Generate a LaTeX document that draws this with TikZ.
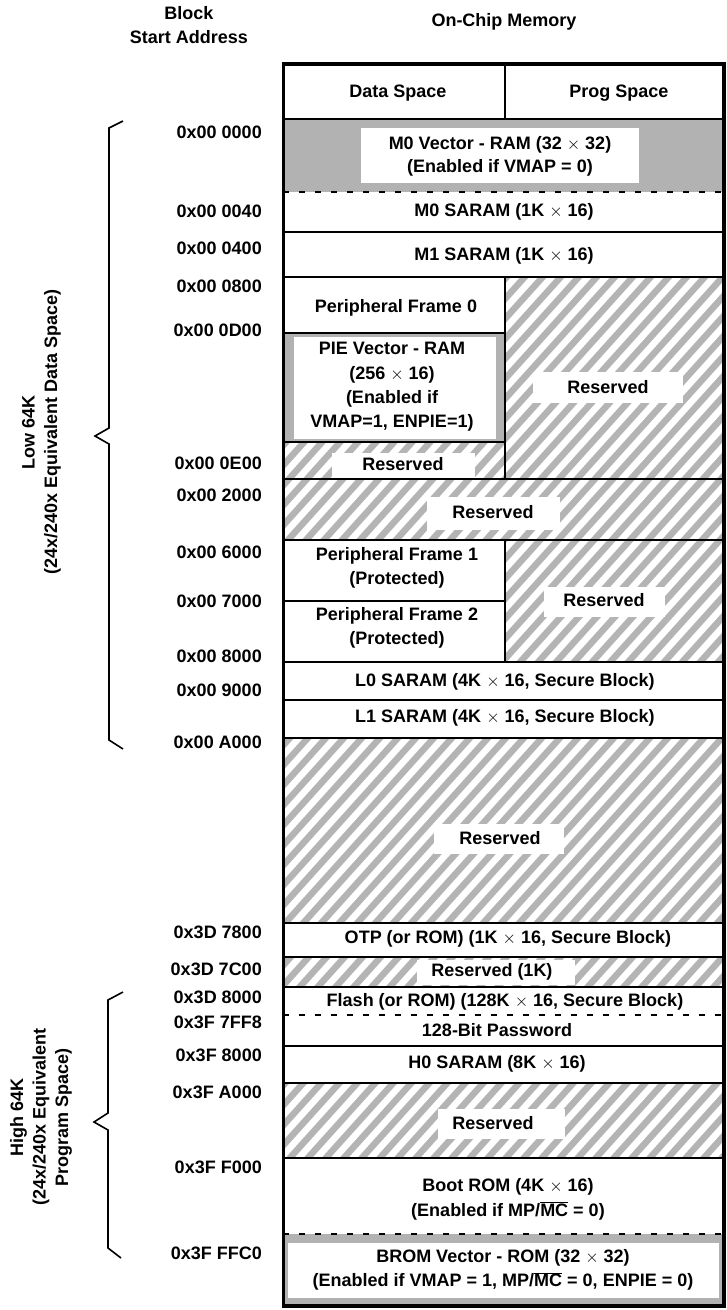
\documentclass[tikz,border=0pt]{standalone}
\usepackage{fontspec}
\setmainfont{Liberation Sans}
\definecolor{hatchgray}{RGB}{180,180,180}
\definecolor{vecgray}{RGB}{178,178,178}
\newcommand{\hatchrect}[4]{%
  \begin{scope}
    \clip (#1,#2) rectangle (#3,#4);
    \foreach \k in {-52,...,42}{\draw[hatchline] ({\k*18},1320) -- ++(1188,-1320);}
  \end{scope}}
\newcommand{\mpmc}{MP/$\overline{\hbox{MC}}$}
\tikzset{
  lbl/.style={font=\bfseries\fontsize{18}{24}\selectfont, align=center, inner sep=0pt},
  addr/.style={font=\bfseries\fontsize{18}{24}\selectfont, anchor=east, inner sep=0pt},
  side/.style={font=\bfseries\fontsize{18}{22.5}\selectfont, align=center, inner sep=0pt, rotate=90},
  cell/.style={line width=2.2pt},
  outerframe/.style={line width=3.5pt},
  hatchline/.style={line width=6.5pt, color=hatchgray},
  sepdash/.style={line width=1.5pt, dash pattern=on 6pt off 10pt},
  bracel/.style={line width=1.6pt, line join=miter},
  whitebox/.style={fill=white},
}
\begin{document}
\begin{tikzpicture}[x=1pt,y=-1pt]
\fill[white] (0,0) rectangle (726,1310);
\useasboundingbox (0,0) rectangle (726,1310);

% shaded vector blocks
\fill[vecgray] (283,119) rectangle (724,192);
\fill[vecgray] (283,333) rectangle (505,442);
\fill[vecgray] (283,1234) rectangle (724,1306);
\fill[whitebox] (361,128) rectangle (639,183);
\fill[whitebox] (294,337) rectangle (496,439);
\fill[whitebox] (288,1243) rectangle (719,1298);

% reserved hatching
\hatchrect{505}{277}{724}{479}
\hatchrect{283}{442}{505}{479}
\hatchrect{283}{479}{724}{540}
\hatchrect{505}{540}{724}{662}
\hatchrect{283}{738}{724}{923}
\hatchrect{283}{957}{724}{987}
\hatchrect{283}{1083}{724}{1158}

% white label backgrounds
\fill[whitebox] (533,372) rectangle (683,403);
\fill[whitebox] (332,453) rectangle (475,479);
\fill[whitebox] (427,497) rectangle (560,530);
\fill[whitebox] (544,587) rectangle (665,617);
\fill[whitebox] (434,824) rectangle (564,854);
\fill[whitebox] (417,960) rectangle (575,985);
\fill[whitebox] (438,1109) rectangle (565,1139);

% grid lines
\draw[cell] (505,64) -- (505,119);
\draw[cell] (283,119) -- (724,119);
\draw[sepdash] (283,192) -- (724,192);
\draw[cell] (283,232) -- (724,232);
\draw[cell] (283,277) -- (724,277);
\draw[cell] (505,277) -- (505,479);
\draw[cell] (283,333) -- (505,333);
\draw[cell] (283,442) -- (505,442);
\draw[cell] (283,479) -- (724,479);
\draw[cell] (283,540) -- (724,540);
\draw[cell] (505,540) -- (505,662);
\draw[cell] (283,601) -- (505,601);
\draw[cell] (283,662) -- (724,662);
\draw[cell] (283,700) -- (724,700);
\draw[cell] (283,738) -- (724,738);
\draw[cell] (283,923) -- (724,923);
\draw[cell] (283,957) -- (724,957);
\draw[cell] (283,987) -- (724,987);
\draw[sepdash] (283,1015) -- (724,1015);
\draw[cell] (283,1046) -- (724,1046);
\draw[cell] (283,1083) -- (724,1083);
\draw[cell] (283,1158) -- (724,1158);
\draw[sepdash] (283,1234) -- (724,1234);
\draw[outerframe] (283.5,64) rectangle (724,1306);

% headings
\node[lbl] (hblock) at (189,25.5) {Block\\Start Address};
\node[lbl] (hmem) at (504,22) {On-Chip Memory};
\node[lbl] (hdata) at (398,93) {Data Space};
\node[lbl] (hprog) at (619,93) {Prog Space};

% block texts
\node[lbl, font=\bfseries\fontsize{18}{23}\selectfont] (m0v) at (500,156) {M0 Vector - RAM (32 $\times$ 32)\\(Enabled if VMAP = 0)};
\node[lbl] (m0) at (504,212) {M0 SARAM (1K $\times$ 16)};
\node[lbl] (m1) at (504,256) {M1 SARAM (1K $\times$ 16)};
\node[lbl] (pf0) at (396,308) {Peripheral Frame 0};
\node[lbl, font=\bfseries\fontsize{18}{24.3}\selectfont] (pie) at (392,387) {PIE Vector - RAM\\(256 $\times$ 16)\\(Enabled if\\VMAP=1, ENPIE=1)};
\node[lbl] (res1) at (608,387) {Reserved};
\node[lbl] (res2) at (403,464) {Reserved};
\node[lbl] (res3) at (493,512) {Reserved};
\node[lbl] (pf1) at (397,568) {Peripheral Frame 1\\(Protected)};
\node[lbl] (pf2) at (397,628) {Peripheral Frame 2\\(Protected)};
\node[lbl] (res4) at (604,600) {Reserved};
\node[lbl] (l0) at (505,682) {L0 SARAM (4K $\times$ 16, Secure Block)};
\node[lbl] (l1) at (505,718) {L1 SARAM (4K $\times$ 16, Secure Block)};
\node[lbl] (res5) at (500,838) {Reserved};
\node[lbl] (otp) at (508,939) {OTP (or ROM) (1K $\times$ 16, Secure Block)};
\node[lbl] (res6) at (492,972) {Reserved (1K)};
\node[lbl] (flash) at (505,1002) {Flash (or ROM) (128K $\times$ 16, Secure Block)};
\node[lbl] (pwd) at (497,1030) {128-Bit Password};
\node[lbl] (h0) at (497,1064) {H0 SARAM (8K $\times$ 16)};
\node[lbl] (res7) at (493,1123) {Reserved};
\node[lbl, font=\bfseries\fontsize{18}{25}\selectfont] (boot) at (508,1199) {Boot ROM (4K $\times$ 16)\\(Enabled if \mpmc{} = 0)};
\node[lbl] (brom) at (503,1270) {BROM Vector - ROM (32 $\times$ 32)\\(Enabled if VMAP = 1, \mpmc{} = 0, ENPIE = 0)};

% addresses
\node[addr] (a1) at (262,132) {0x00 0000};
\node[addr] (a2) at (262,211) {0x00 0040};
\node[addr] (a3) at (262,248) {0x00 0400};
\node[addr] (a4) at (262,286) {0x00 0800};
\node[addr] (a5) at (262,330) {0x00 0D00};
\node[addr] (a6) at (262,463) {0x00 0E00};
\node[addr] (a7) at (262,495) {0x00 2000};
\node[addr] (a8) at (262,552) {0x00 6000};
\node[addr] (a9) at (262,601) {0x00 7000};
\node[addr] (a10) at (262,656) {0x00 8000};
\node[addr] (a11) at (262,690) {0x00 9000};
\node[addr] (a12) at (262,742) {0x00 A000};
\node[addr] (a13) at (262,932) {0x3D 7800};
\node[addr] (a14) at (262,969) {0x3D 7C00};
\node[addr] (a15) at (262,997) {0x3D 8000};
\node[addr] (a16) at (262,1022) {0x3F 7FF8};
\node[addr] (a17) at (262,1055) {0x3F 8000};
\node[addr] (a18) at (262,1092) {0x3F A000};
\node[addr] (a19) at (262,1167) {0x3F F000};
\node[addr] (a20) at (262,1253) {0x3F FFC0};

% braces
\draw[bracel] (123,121) -- (109,128) -- (109,428) -- (95,436) -- (109,444) -- (109,740) -- (123,749);
\draw[bracel] (123,992) -- (108,1000) -- (108,1113) -- (94,1122) -- (108,1130) -- (108,1248) -- (121,1258);
\node[side] (low) at (41.5,432) {Low 64K\\(24x/240x Equivalent Data Space)};
\node[side] (high) at (41,1117) {High 64K\\(24x/240x Equivalent\\Program Space)};
\end{tikzpicture}
\end{document}
